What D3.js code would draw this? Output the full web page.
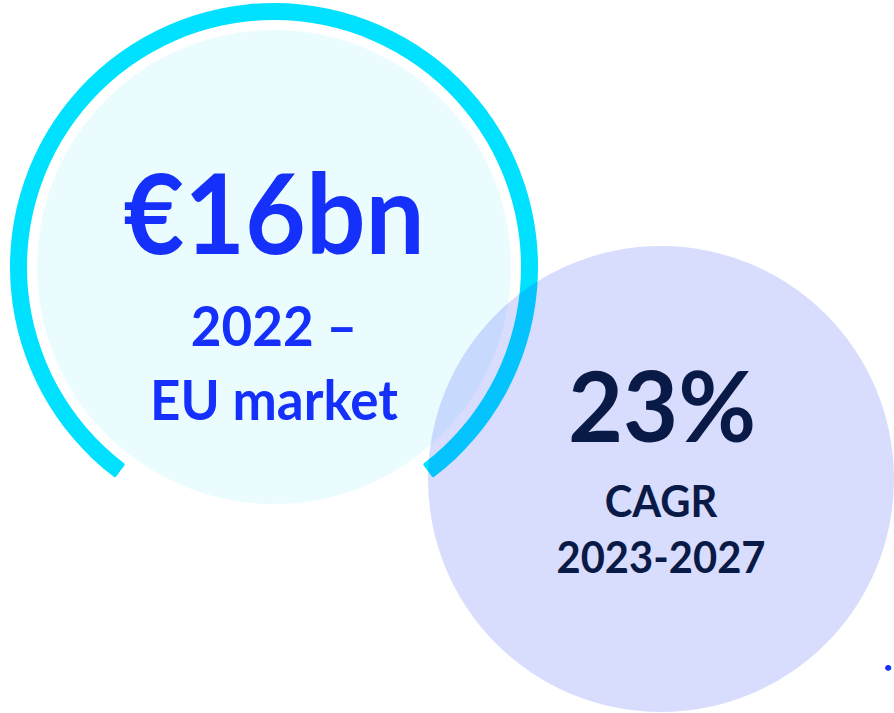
<!DOCTYPE html>
<html>
  <head>
    <meta charset="utf-8">
    <title>EU market and CAGR</title>
    <script src="https://cdn.jsdelivr.net/npm/d3@7"></script>
    <style type="text/css">
        html, body { margin: 0; padding: 0; background: #fff; }
        svg { display: block; font-family: Lato, "Open Sans", sans-serif; font-weight: bold; }
    </style>
  </head>
  <body>
    <div id="viz"></div>
    <script type="text/javascript">

    // figures shown in the two bubbles
    var headlines = ["€16bn", "23%"];
    var subLines = [["2022 –", "EU market"], ["CAGR", "2023-2027"]];
    // gap in the ring round the first bubble, degrees either side of the bottom
    var ringGap = [37];

    var width = 894, height = 713;

    var svg = d3.select("#viz").append("svg")
        .attr("width", width)
        .attr("height", height);

    // left bubble
    var left = svg.append("g").attr("transform", "translate(274,267)");

    left.append("circle")
        .attr("r", 237)
        .style("fill", "#ebfcff");

    var ring = d3.arc()
        .innerRadius(247)
        .outerRadius(264)
        .cornerRadius(2)
        .startAngle(-(180 - ringGap[0]) * Math.PI / 180)
        .endAngle((180 - ringGap[0]) * Math.PI / 180);

    left.append("path")
        .attr("d", ring())
        .style("fill", "#00e1ff");

    // Lato runs a bit wider than the original face, so squeeze it
    left.append("text")
        .attr("text-anchor", "middle")
        .attr("transform", "translate(0,-13) scale(0.945,1)")
        .style("font-size", "111px")
        .style("fill", "#1530fa")
        .text(headlines[0]);

    left.selectAll("text.sub")
        .data(subLines[0])
        .enter().append("text")
        .attr("class", "sub")
        .attr("text-anchor", "middle")
        .attr("transform", function(d, i) { return "translate(0," + (79 + i * 74) + ") scale(0.945,1)"; })
        .style("font-size", "56px")
        .style("fill", "#1530fa")
        .text(function(d) { return d; });

    // right bubble, drawn over the left one
    var right = svg.append("g").attr("transform", "translate(661,479)");

    right.append("circle")
        .attr("r", 233)
        .style("fill", "#1632f5")
        .style("fill-opacity", 0.17);

    right.append("text")
        .attr("text-anchor", "middle")
        .attr("transform", "translate(1,-37) scale(0.98,1)")
        .style("font-size", "97px")
        .style("fill", "#0a1a47")
        .text(headlines[1]);

    right.selectAll("text.sub")
        .data(subLines[1])
        .enter().append("text")
        .attr("class", "sub")
        .attr("text-anchor", "middle")
        .attr("transform", function(d, i) { return "translate(0," + (38 + i * 56) + ") scale(0.97,1)"; })
        .style("font-size", "43px")
        .style("fill", "#0a1a47")
        .text(function(d) { return d; });

    // small mark near the right edge
    svg.append("text")
        .attr("x", 884)
        .attr("y", 672)
        .style("font-size", "14px")
        .style("fill", "#1530fa")
        .text("•");

    </script>
  </body>
</html>
